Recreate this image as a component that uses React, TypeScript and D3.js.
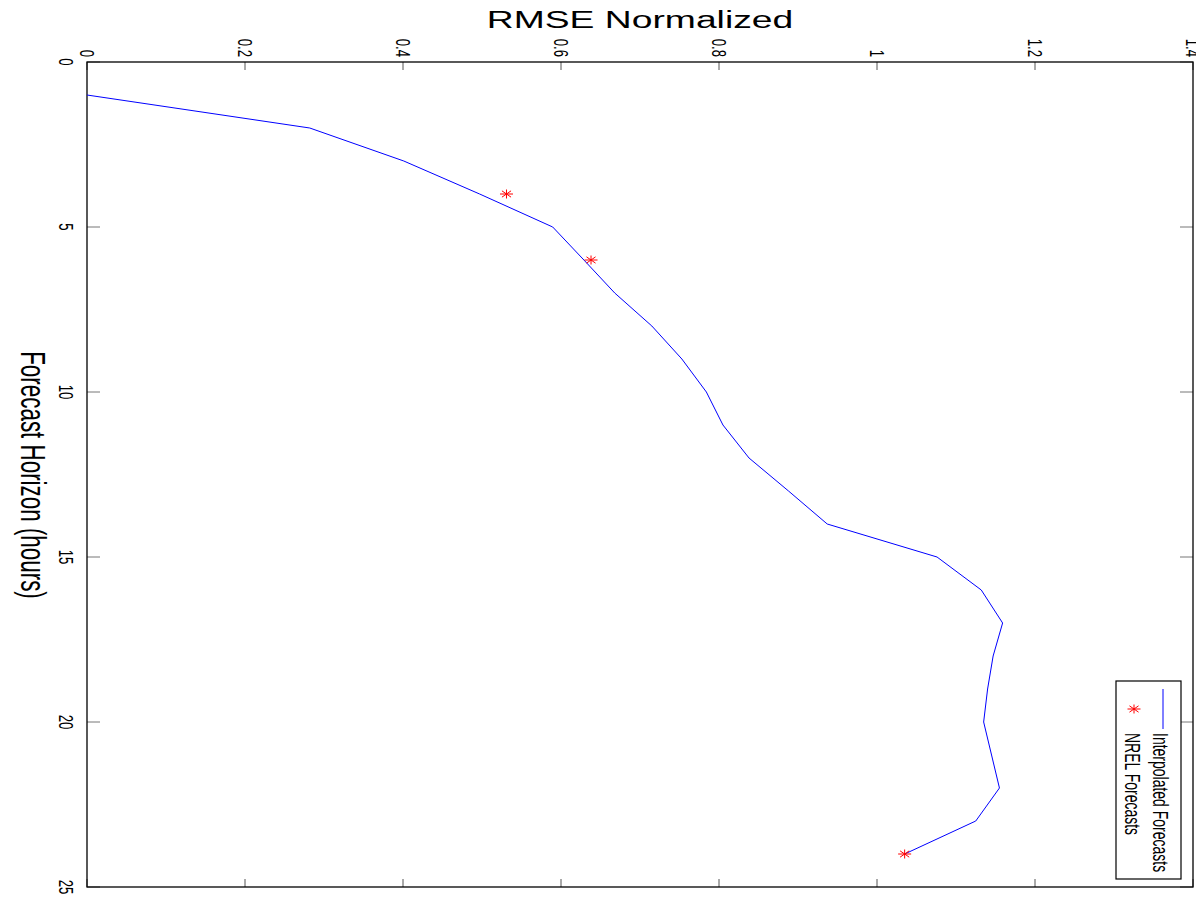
import React from 'react';
import * as d3 from 'd3';

// Forecast horizon (hours) and the interpolated RMSE curve
const hours = [1, 2, 3, 4, 5, 6, 7, 8, 9, 10, 11, 12, 13, 14, 15, 16, 17, 18, 19, 20, 21, 22, 23, 24];
const rmse = [0, 0.282, 0.401, 0.497, 0.5895, 0.629, 0.668, 0.715, 0.753, 0.784, 0.805, 0.838,
    0.888, 0.937, 1.076, 1.132, 1.159, 1.147, 1.14, 1.135, 1.145, 1.155, 1.125, 1.035];

// NREL point forecasts
const nrelHours = [4, 6, 24];
const nrelRmse = [0.531, 0.638, 1.035];

const rmseTicks = [0, 0.2, 0.4, 0.6, 0.8, 1, 1.2, 1.4];
const hourTicks = [0, 5, 10, 15, 20, 25];

const seriesNames = ['Interpolated Forecasts', 'NREL Forecasts'];

const W = 1196;
const H = 897;
const left = 87, right = 1193, top = 62, bottom = 887;
const stretch = 1.55; // the figure is stretched horizontally
const font = '"Liberation Sans", Arial, sans-serif';

const x = d3.scaleLinear().domain([0, 1.4]).range([left, right]);
const y = d3.scaleLinear().domain([0, 25]).range([top, bottom]);

const line = d3.line<number>()
    .x((d) => x(d))
    .y((_, i) => y(hours[i]));

// rotated text: reads top to bottom, glyph height stretched horizontally
const rot = (tx: number, ty: number, s = stretch) => `translate(${tx},${ty}) rotate(90) scale(1,${s})`;

const Star = ({ cx, cy }: { cx: number; cy: number }) => {
    const rx = 6.5, ry = 4.5;
    const k = 0.7;
    return (
        <g stroke="#ff0000" strokeWidth={1}>
            <line x1={cx - rx} y1={cy} x2={cx + rx} y2={cy} />
            <line x1={cx} y1={cy - ry} x2={cx} y2={cy + ry} />
            <line x1={cx - rx * k} y1={cy - ry * k} x2={cx + rx * k} y2={cy + ry * k} />
            <line x1={cx - rx * k} y1={cy + ry * k} x2={cx + rx * k} y2={cy - ry * k} />
        </g>
    );
};

const App = () => {
    const tickFont = 13.2;
    const digitH = 0.716 * tickFont * stretch;

    return (
        <svg width={W} height={H} style={{ position: 'absolute', left: 0, top: 0, background: '#fff' }}
            fontFamily={font}>
            <rect width={W} height={H} fill="#fff" />

            {/* title (horizontal) */}
            <text transform={`translate(${(left + right) / 2},28) scale(1.6,1)`} textAnchor="middle"
                fontSize={23.3}>RMSE Normalized</text>

            {/* y label */}
            <text transform={rot(21, 475, 1.6)} textAnchor="middle" fontSize={22.4}>
                Forecast Horizon (hours)
            </text>

            {/* rmse ticks along top and bottom */}
            {rmseTicks.map((t) => (
                <g key={'x' + t}>
                    <line x1={x(t)} x2={x(t)} y1={top} y2={top + 8} stroke="#555" />
                    <line x1={x(t)} x2={x(t)} y1={bottom} y2={bottom - 8} stroke="#555" />
                    <text transform={rot(x(t) - digitH / 2, top - 5)} textAnchor="end" fontSize={tickFont}>
                        {d3.format('~g')(t)}
                    </text>
                </g>
            ))}

            {/* hour ticks on left and right */}
            {hourTicks.map((t) => (
                <g key={'y' + t}>
                    <line x1={left} x2={left + 13} y1={y(t)} y2={y(t)} stroke="#777" />
                    <line x1={right} x2={right - 13} y1={y(t)} y2={y(t)} stroke="#777" />
                    <text transform={rot(left - 13 - digitH, y(t))} textAnchor="middle" fontSize={tickFont}>
                        {t}
                    </text>
                </g>
            ))}

            <rect x={left} y={top} width={right - left} height={bottom - top} fill="none"
                stroke="#000" strokeWidth={1.3} />

            <path d={line(rmse) ?? ''} fill="none" stroke="#0000ff" strokeWidth={1} />

            {nrelRmse.map((v, i) => (
                <Star key={i} cx={x(v)} cy={y(nrelHours[i])} />
            ))}

            {/* legend */}
            <g>
                <rect x={1116} y={681} width={65} height={198} fill="#fff" stroke="#000" strokeWidth={1.2} />
                <line x1={1163} x2={1163} y1={689} y2={729} stroke="#0000ff" strokeWidth={1} />
                <Star cx={1134} cy={709} />
                <text transform={rot(1153, 733)} fontSize={14}>{seriesNames[0]}</text>
                <text transform={rot(1125, 733)} fontSize={14}>{seriesNames[1]}</text>
            </g>
        </svg>
    );
};

export default App;
